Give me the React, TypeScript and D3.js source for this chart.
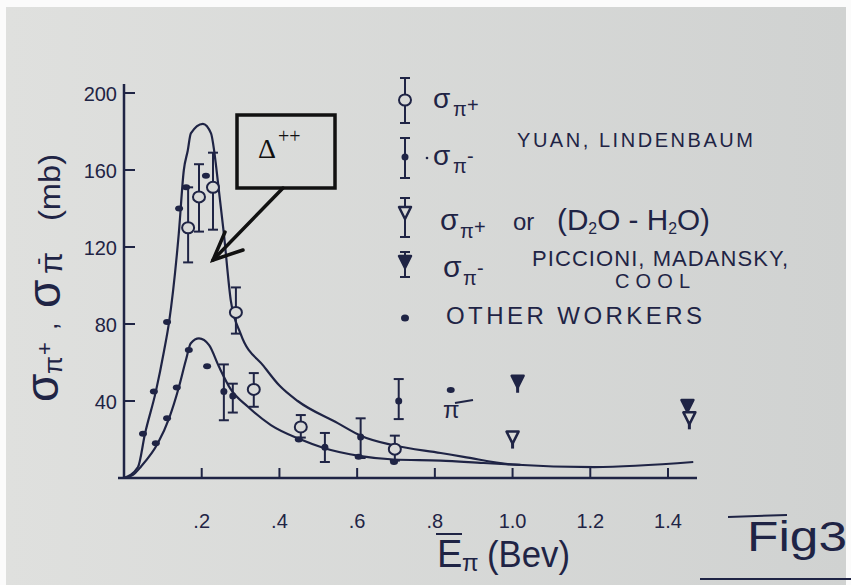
import React from 'react';
import * as d3 from 'd3';

const W = 851;
const H = 585;
const INK = '#1f2445';
const PAPER = '#d9dad8';
const FONT = '"Liberation Sans", "DejaVu Sans", sans-serif';

// fitted curves (E in Bev, sigma in mb)
const upperE = [0, 0.036, 0.054, 0.082, 0.103, 0.116, 0.141, 0.154, 0.164, 0.172, 0.203, 0.224, 0.232, 0.237, 0.257, 0.275, 0.3, 0.36, 0.4, 0.447, 0.55, 0.609, 0.694, 0.815, 0.874, 1.0, 1.21, 1.465];
const upperMb = [0, 5.7, 23, 45, 66, 81, 127, 160, 170, 179, 184, 179, 170, 162, 127, 92, 75, 58, 48, 40, 28.5, 22, 17, 13, 11, 7, 5.7, 8.3];
const lowerE = [0, 0.023, 0.044, 0.087, 0.116, 0.141, 0.159, 0.172, 0.193, 0.219, 0.244, 0.275, 0.319, 0.378, 0.455, 0.514, 0.609, 0.694, 0.815, 0.925, 1.02];
const lowerMb = [0, 1.6, 6, 18, 31, 47, 61, 70, 72.5, 69, 58, 46, 37, 27.5, 20, 15.6, 11.4, 9.6, 9, 7.8, 6.8];

// Yuan, Lindenbaum sigma(pi+) open circles
const ylPlusE = [0.165, 0.193, 0.229, 0.288, 0.334, 0.455, 0.697];
const ylPlusMb = [130, 146, 151, 86, 46, 26.5, 15];
const ylPlusLo = [112, 128, 129, 75, 37, 21, 9];
const ylPlusHi = [151, 163, 169, 99, 54.5, 32.7, 22];
// Yuan, Lindenbaum sigma(pi-) filled dots
const ylMinusE = [0.257, 0.28, 0.517, 0.609, 0.707];
const ylMinusMb = [45, 42.6, 16, 21.3, 40];
const ylMinusLo = [30, 34, 8.3, 10.4, 30.6];
const ylMinusHi = [59, 49, 23.4, 31, 51.4];
// Piccioni, Madansky, Cool
const pmcPlusE = [1.0, 1.455];
const pmcPlusMb = [21, 31];
const pmcMinusE = [1.013, 1.45];
const pmcMinusMb = [50, 37.4];
// other workers
const otherE = [0.054, 0.082, 0.116, 0.147, 0.165, 0.216, 0.087, 0.116, 0.141, 0.172, 0.219, 0.455, 0.609, 0.7, 0.846];
const otherMb = [23, 45, 81, 140, 151, 157, 18, 31, 47, 66.5, 58, 20, 11, 8.3, 45.7];

const yTicks = [40, 80, 120, 160, 200];
const xTicks = [0.2, 0.4, 0.6, 0.8, 1.0, 1.2, 1.4];
const xTickLabels = ['.2', '.4', '.6', '.8', '1.0', '1.2', '1.4'];

const x = d3.scaleLinear().domain([0, 1.4]).range([124, 668]);
const y = d3.scaleLinear().domain([0, 200]).range([478, 93]);

function curvePath(es: number[], ms: number[]) {
  const l = d3
    .line<[number, number]>()
    .x((d) => x(d[0]))
    .y((d) => y(d[1]))
    .curve(d3.curveMonotoneX);
  return l(es.map((e, i) => [e, ms[i]])) as string;
}

function ErrBar({ cx, y1, y2 }: { cx: number; y1: number; y2: number }) {
  return (
    <g stroke={INK} strokeWidth={2}>
      <line x1={cx} x2={cx} y1={y1} y2={y2} />
      <line x1={cx - 5} x2={cx + 5} y1={y1} y2={y1} />
      <line x1={cx - 5} x2={cx + 5} y1={y2} y2={y2} />
    </g>
  );
}

function OpenCircle({ cx, cy }: { cx: number; cy: number }) {
  return <ellipse cx={cx} cy={cy} rx={6} ry={5.5} fill={PAPER} stroke={INK} strokeWidth={2} />;
}

function DownTri({ cx, cy, filled }: { cx: number; cy: number; filled: boolean }) {
  const p = `${cx - 6},${cy - 6} ${cx + 6},${cy - 6} ${cx},${cy + 6}`;
  return <polygon points={p} fill={filled ? INK : PAPER} stroke={INK} strokeWidth={2.5} strokeLinejoin="round" />;
}

function SigmaPi({ sx, base, sign, big }: { sx: number; base: number; sign: string; big?: boolean }) {
  const fs = big ? 30 : 28;
  return (
    <g fill={INK} fontFamily={FONT}>
      <text x={sx} y={base} fontSize={fs}>σ</text>
      <text x={sx + 20} y={base + 8} fontSize={20}>π</text>
      <text x={sx + 34} y={base + (sign === '+' ? 4 : -2)} fontSize={20}>{sign === '+' ? '+' : '-'}</text>
    </g>
  );
}

export default function App() {
  return (
    <svg width={W} height={H} style={{ position: 'absolute', left: 0, top: 0 }} fontFamily={FONT}>
      <defs>
        <linearGradient id="paper" x1="0" x2="1" y1="0" y2="0">
          <stop offset="0" stopColor="#dfe0de" />
          <stop offset="1" stopColor="#d0d2d1" />
        </linearGradient>
      </defs>
      <rect width={W} height={H} fill="#fbfbfb" />
      <rect x={6} y={7} width={840} height={578} fill="url(#paper)" />

      {/* axes */}
      <g stroke={INK} strokeWidth={2.5} fill="none">
        <line x1={x(0)} x2={x(0)} y1={y(0)} y2={84} />
        <line x1={118} x2={697} y1={y(0)} y2={y(0)} />
        {yTicks.map((t) => (
          <line key={t} x1={x(0)} x2={x(0) + 11} y1={y(t)} y2={y(t)} strokeWidth={2} />
        ))}
        {xTicks.map((t) => (
          <line key={t} x1={x(t)} x2={x(t)} y1={y(0)} y2={y(0) - 10} strokeWidth={2} />
        ))}
      </g>
      <g fill={INK} fontSize={20}>
        {yTicks.map((t) => (
          <text key={t} x={117} y={y(t) + 8} textAnchor="end">{t}</text>
        ))}
        {xTicks.map((t, i) => (
          <text key={t} x={x(t)} y={528} textAnchor="middle">{xTickLabels[i]}</text>
        ))}
      </g>

      {/* curves */}
      <g fill="none" stroke={INK} strokeWidth={2.2}>
        <path d={curvePath(upperE, upperMb)} />
        <path d={curvePath(lowerE, lowerMb)} />
      </g>

      {/* data */}
      {ylPlusE.map((e, i) => (
        <g key={'p' + i}>
          <ErrBar cx={x(e)} y1={y(ylPlusHi[i])} y2={y(ylPlusLo[i])} />
          <OpenCircle cx={x(e)} cy={y(ylPlusMb[i])} />
        </g>
      ))}
      {ylMinusE.map((e, i) => (
        <g key={'m' + i}>
          <ErrBar cx={x(e)} y1={y(ylMinusHi[i])} y2={y(ylMinusLo[i])} />
          <circle cx={x(e)} cy={y(ylMinusMb[i])} r={3.5} fill={INK} />
        </g>
      ))}
      {otherE.map((e, i) => (
        <ellipse key={'o' + i} cx={x(e) - 2} cy={y(otherMb[i])} rx={4} ry={3} fill={INK} />
      ))}
      {pmcMinusE.map((e, i) => (
        <g key={'pm' + i}>
          <line x1={x(e)} x2={x(e)} y1={y(pmcMinusMb[i])} y2={y(pmcMinusMb[i]) + 11} stroke={INK} strokeWidth={3} />
          <DownTri cx={x(e)} cy={y(pmcMinusMb[i])} filled />
        </g>
      ))}
      {pmcPlusE.map((e, i) => (
        <g key={'pp' + i}>
          <line x1={x(e)} x2={x(e)} y1={y(pmcPlusMb[i])} y2={y(pmcPlusMb[i]) + 11} stroke={INK} strokeWidth={3} />
          <DownTri cx={x(e)} cy={y(pmcPlusMb[i])} filled={false} />
        </g>
      ))}
      {/* pi mark below the other-workers point */}
      <text x={443} y={418} fontSize={24} fill={INK}>π</text>
      <line x1={455} x2={473} y1={403} y2={400} stroke={INK} strokeWidth={2} />

      {/* legend */}
      <ErrBar cx={405} y1={78} y2={123} />
      <OpenCircle cx={405} cy={100} />
      <SigmaPi sx={433} base={108} sign="+" />
      <ErrBar cx={405} y1={138} y2={178} />
      <circle cx={405} cy={157} r={3.5} fill={INK} />
      <circle cx={427} cy={158} r={1.3} fill={INK} />
      <SigmaPi sx={433} base={165} sign="-" />
      <text x={517} y={147} fontSize={20} fill={INK} textLength={236} lengthAdjust="spacing">YUAN, LINDENBAUM</text>

      <ErrBar cx={405} y1={198} y2={237} />
      <DownTri cx={405} cy={213} filled={false} />
      <SigmaPi sx={440} base={230} sign="+" big />
      <text x={513} y={230} fontSize={24} fill={INK}>or</text>
      <text x={557} y={230} fontSize={30} fill={INK} textLength={153} lengthAdjust="spacingAndGlyphs">
        (D<tspan fontSize={16} dy={4}>2</tspan><tspan dy={-4}>O - H</tspan><tspan fontSize={16} dy={4}>2</tspan><tspan dy={-4}>O)</tspan>
      </text>

      <ErrBar cx={405} y1={252} y2={277} />
      <DownTri cx={405} cy={262} filled />
      <SigmaPi sx={443} base={277} sign="-" big />
      <text x={532} y={266} fontSize={22} fill={INK} textLength={256} lengthAdjust="spacing">PICCIONI, MADANSKY,</text>
      <text x={615} y={288} fontSize={20} fill={INK} textLength={75} lengthAdjust="spacing">COOL</text>

      <ellipse cx={405} cy={318} rx={4} ry={3.5} fill={INK} />
      <text x={446} y={324} fontSize={24} fill={INK} textLength={256} lengthAdjust="spacing">OTHER WORKERS</text>

      {/* y axis title, rotated */}
      <g fill={INK} transform="rotate(-90)">
        <text x={-402} y={58} fontSize={46}>σ</text>
        <text x={-374} y={62} fontSize={26}>π</text>
        <text x={-355} y={52} fontSize={22}>+</text>
        <text x={-330} y={57} fontSize={26}>,</text>
        <text x={-308} y={60} fontSize={46}>σ</text>
        <text x={-274} y={62} fontSize={32}>π</text>
        <text x={-265} y={45} fontSize={22}>-</text>
        <text x={-221} y={60} fontSize={30} textLength={67} lengthAdjust="spacingAndGlyphs">(mb)</text>
      </g>

      {/* x axis title */}
      <text x={437} y={567} fontSize={38} fill={INK}>E</text>
      <line x1={436} x2={462} y1={534} y2={534} stroke={INK} strokeWidth={2} />
      <text x={462} y={571} fontSize={24} fill={INK}>π</text>
      <text x={487} y={567} fontSize={36} fill={INK} textLength={83} lengthAdjust="spacingAndGlyphs">(Bev)</text>

      {/* Delta++ annotation */}
      <rect x={237} y={115} width={98} height={73} fill="none" stroke="#111" strokeWidth={3.5} />
      <text x={258} y={158} fontSize={28} fontFamily='"Liberation Serif", serif' fill="#111">Δ</text>
      <text x={278} y={143} fontSize={20} fontFamily='"Liberation Serif", serif' fill="#111">++</text>
      <g stroke="#111" strokeWidth={3.5} fill="none" strokeLinecap="round">
        <line x1={283} y1={188} x2={213} y2={260} />
        <polyline points="225,232 213,260 243,250" />
      </g>

      {/* figure label */}
      <line x1={728} x2={787} y1={517} y2={515} stroke={INK} strokeWidth={2} />
      <text x={747} y={551} fontSize={42} fill={INK} textLength={100} lengthAdjust="spacingAndGlyphs">Fig3</text>
      <line x1={700} x2={851} y1={579} y2={579} stroke={INK} strokeWidth={2} />
    </svg>
  );
}
